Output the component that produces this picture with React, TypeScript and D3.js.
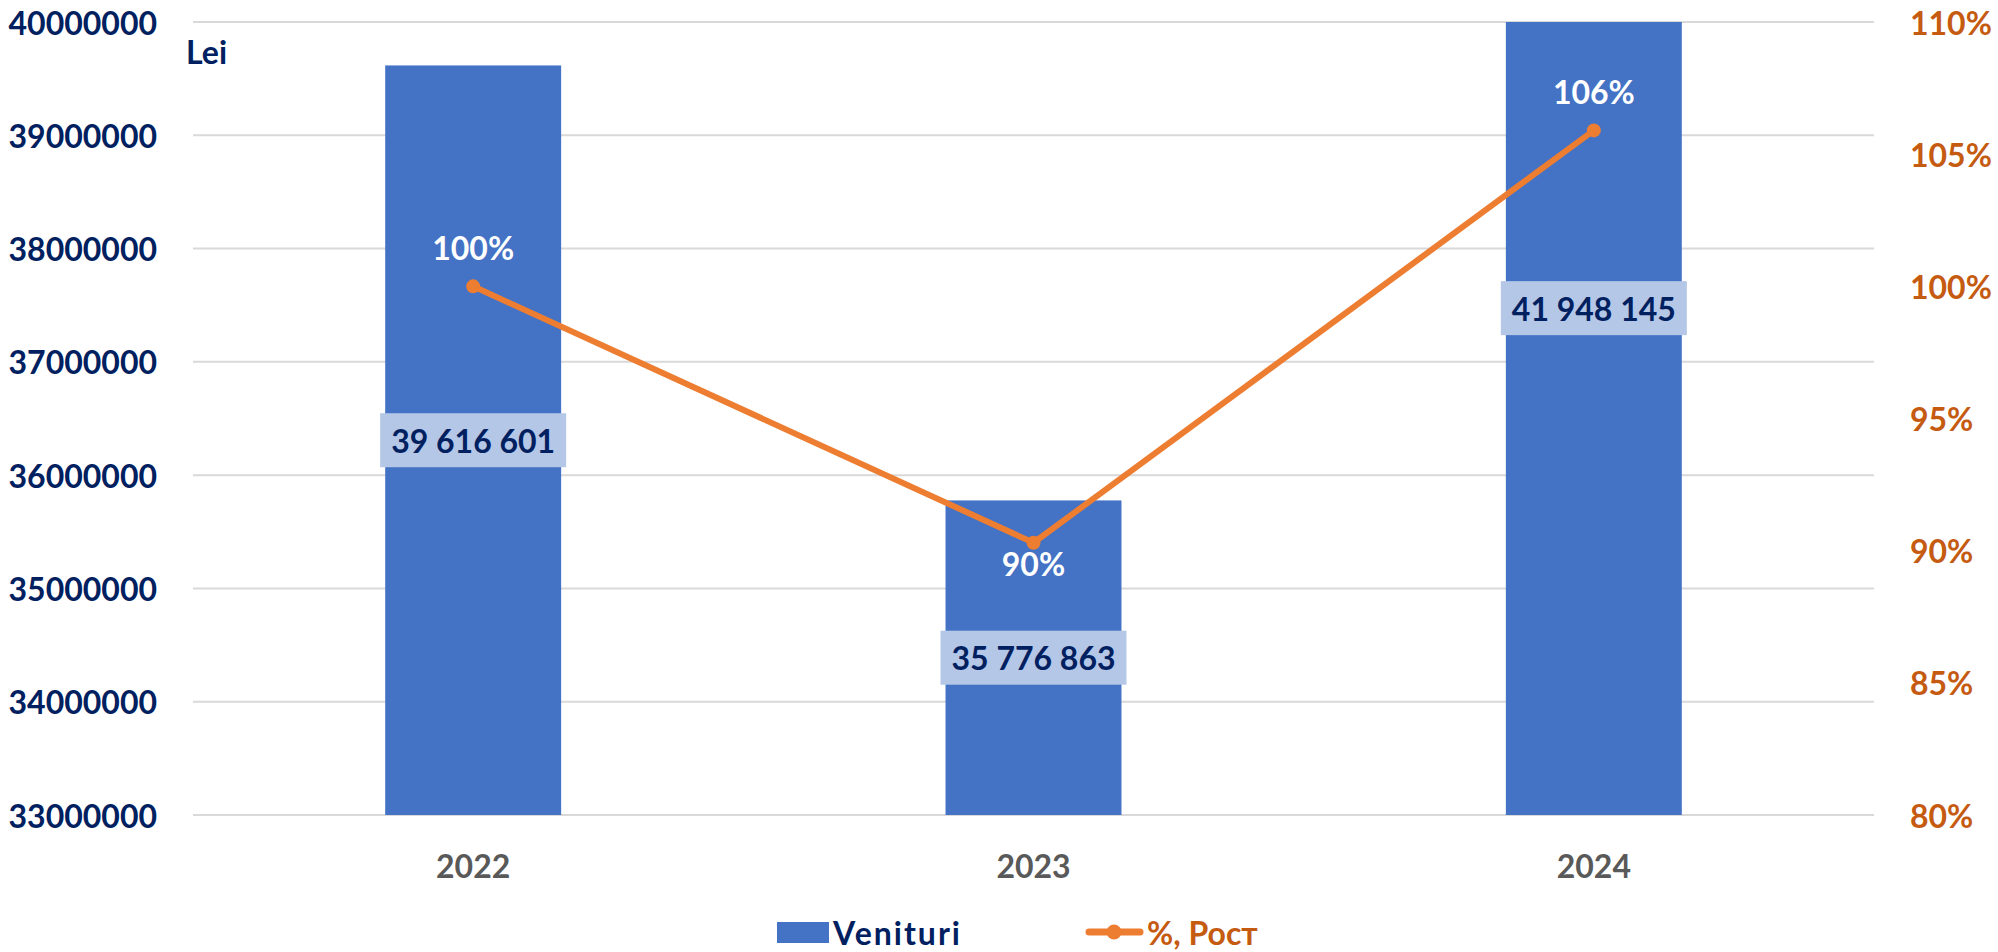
import React, { useRef, useEffect } from "react";
import * as d3 from "d3";

// chart data
const years = ["2022", "2023", "2024"];
const venituri = [39616601, 35776863, 41948145];
const venituriLabels = ["39 616 601", "35 776 863", "41 948 145"];
const rost = [100, 90.3, 105.9];
const rostLabels = ["100%", "90%", "106%"];
const placeAbove = [true, false, true];
const leftTicks = [33000000, 34000000, 35000000, 36000000, 37000000, 38000000, 39000000, 40000000];
const rightTicks = [80, 85, 90, 95, 100, 105, 110];

const W = 1998;
const H = 952;
const FONT = "Lato, 'Open Sans', sans-serif";

function App() {
    const ref = useRef<SVGSVGElement | null>(null);

    useEffect(() => {
        const svg = d3.select(ref.current);
        svg.selectAll("*").remove();

        const left = 193, right = 1874, top = 22, bottom = 815;

        const x = d3.scaleBand().domain(years).range([left, right]).paddingInner(0).paddingOuter(0);
        const y = d3.scaleLinear().domain([33000000, 40000000]).range([bottom, top]);
        const y2 = d3.scaleLinear().domain([80, 110]).range([bottom, top]);
        const barW = x.bandwidth() * 0.314;
        const cx = (d: string) => (x(d) as number) + x.bandwidth() / 2;

        svg.append("defs").append("clipPath").attr("id", "plot")
            .append("rect").attr("x", left).attr("y", top).attr("width", right - left).attr("height", bottom - top);

        // gridlines
        svg.append("g").selectAll("line").data(leftTicks).join("line")
            .attr("x1", left).attr("x2", right)
            .attr("y1", d => y(d)).attr("y2", d => y(d))
            .attr("stroke", "#D9D9D9").attr("stroke-width", 2);

        // left axis labels
        svg.append("g").selectAll("text").data(leftTicks).join("text")
            .attr("x", 157).attr("y", d => y(d))
            .attr("text-anchor", "end").attr("dominant-baseline", "central")
            .attr("font-family", FONT).attr("font-weight", 700).attr("font-size", 32)
            .attr("fill", "#002060")
            .text(d => String(d));

        // right axis labels
        svg.append("g").selectAll("text").data(rightTicks).join("text")
            .attr("x", 1910).attr("y", d => y2(d))
            .attr("text-anchor", "start").attr("dominant-baseline", "central")
            .attr("font-family", FONT).attr("font-weight", 700).attr("font-size", 32)
            .attr("fill", "#C55A11")
            .text(d => d + "%");

        svg.append("text").attr("x", 186).attr("y", 51)
            .attr("dominant-baseline", "central")
            .attr("font-family", FONT).attr("font-weight", 700).attr("font-size", 32)
            .attr("fill", "#002060").text("Lei");

        // bars
        svg.append("g").attr("clip-path", "url(#plot)").selectAll("rect").data(venituri).join("rect")
            .attr("x", (d, i) => cx(years[i]) - barW / 2)
            .attr("width", barW)
            .attr("y", d => y(d))
            .attr("height", d => bottom - y(d))
            .attr("fill", "#4472C4");

        // x labels
        svg.append("g").selectAll("text").data(years).join("text")
            .attr("x", d => cx(d)).attr("y", 865)
            .attr("text-anchor", "middle").attr("dominant-baseline", "central")
            .attr("font-family", FONT).attr("font-weight", 700).attr("font-size", 32)
            .attr("fill", "#595959").text(d => d);

        // value labels with boxes
        const vl = svg.append("g").selectAll("g").data(venituri).join("g")
            .attr("transform", (d, i) => `translate(${cx(years[i])},${(y(d) + bottom) / 2})`);
        vl.append("rect").attr("x", -93).attr("y", -27).attr("width", 186).attr("height", 54).attr("fill", "#B4C7E7");
        vl.append("text")
            .attr("text-anchor", "middle").attr("dominant-baseline", "central")
            .attr("font-family", FONT).attr("font-weight", 700).attr("font-size", 32)
            .attr("fill", "#002060").text((d, i) => venituriLabels[i]);

        // line
        const line = d3.line<number>().x((d, i) => cx(years[i])).y(d => y2(d));
        svg.append("path").datum(rost)
            .attr("d", line).attr("fill", "none")
            .attr("stroke", "#ED7D31").attr("stroke-width", 6).attr("stroke-linejoin", "round");
        svg.append("g").selectAll("circle").data(rost).join("circle")
            .attr("cx", (d, i) => cx(years[i])).attr("cy", d => y2(d)).attr("r", 7)
            .attr("fill", "#ED7D31");

        svg.append("g").selectAll("text").data(rost).join("text")
            .attr("x", (d, i) => cx(years[i]))
            .attr("y", (d, i) => y2(d) + (placeAbove[i] ? -39 : 21))
            .attr("text-anchor", "middle").attr("dominant-baseline", "central")
            .attr("font-family", FONT).attr("font-weight", 700).attr("font-size", 32)
            .attr("fill", "#FFFFFF").text((d, i) => rostLabels[i]);

        // legend
        const lg = svg.append("g");
        lg.append("rect").attr("x", 777).attr("y", 922).attr("width", 52).attr("height", 21).attr("fill", "#4472C4");
        lg.append("text").attr("x", 833).attr("y", 932)
            .attr("dominant-baseline", "central")
            .attr("font-family", FONT).attr("font-weight", 700).attr("font-size", 32)
            .attr("letter-spacing", 2)
            .attr("fill", "#002060").text("Venituri");
        lg.append("line").attr("x1", 1089).attr("x2", 1140).attr("y1", 932).attr("y2", 932)
            .attr("stroke", "#ED7D31").attr("stroke-width", 7).attr("stroke-linecap", "round");
        lg.append("circle").attr("cx", 1114).attr("cy", 932).attr("r", 7.5).attr("fill", "#ED7D31");
        lg.append("text").attr("x", 1147).attr("y", 932)
            .attr("dominant-baseline", "central")
            .attr("font-family", FONT).attr("font-weight", 700).attr("font-size", 32)
            .attr("fill", "#C55A11").text("%, Рост");
    }, []);

    return (
        <svg ref={ref} width={W} height={H}
            style={{ position: "absolute", left: 0, top: 0, background: "#fff" }} />
    );
}

export default App;
